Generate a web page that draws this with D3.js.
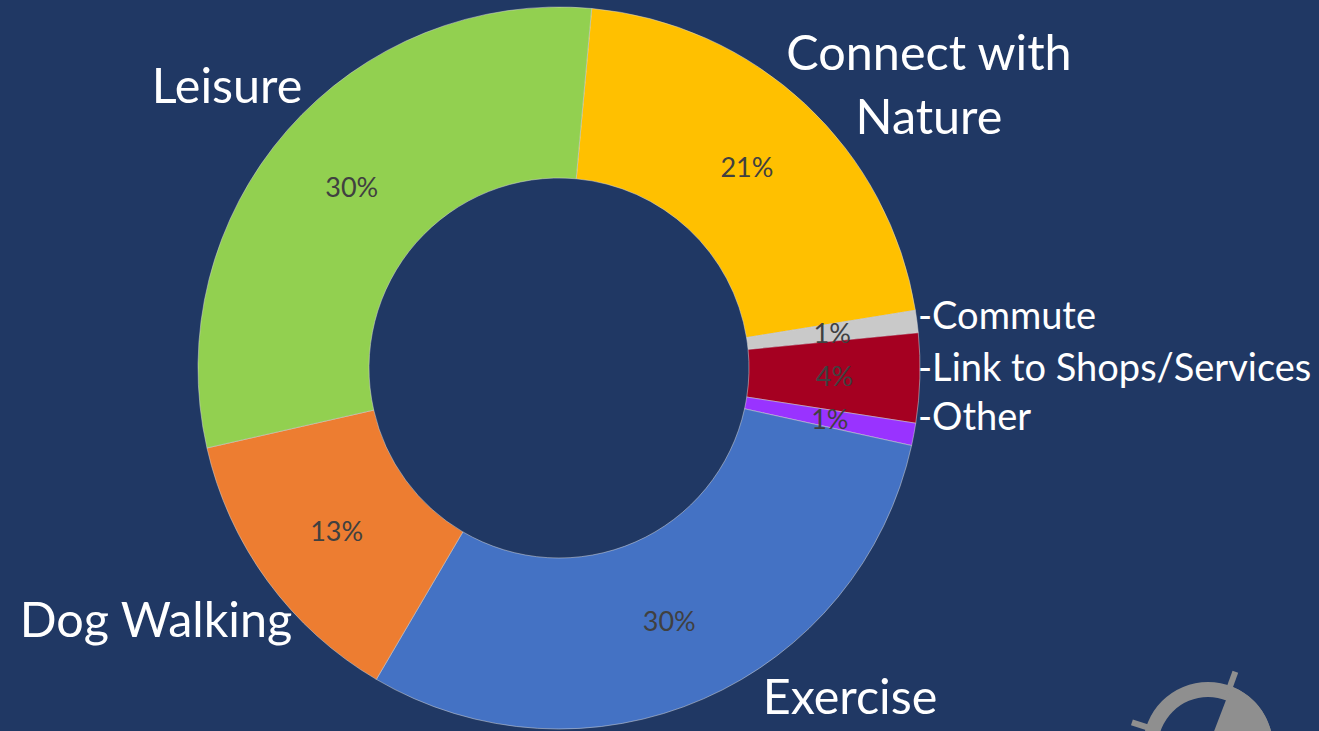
<!DOCTYPE html>
<html>
<head>
<meta charset="utf-8">
<script src="https://cdn.jsdelivr.net/npm/d3@7"></script>
<style>
  html, body { margin: 0; padding: 0; background: #203864; }
  svg { display: block; }
</style>
</head>
<body>
<svg id="chart" width="1319" height="731"></svg>
<script>
// data, in slice order (clockwise)
const categories = ["Connect with Nature", "Commute", "Link to Shops/Services", "Other", "Exercise", "Dog Walking", "Leisure"];
const values = [21, 1, 4, 1, 30, 13, 30];
const pctLabels = ["21%", "1%", "4%", "1%", "30%", "13%", "30%"];
const colors = ["#FFC000", "#C9C9C9", "#A50021", "#9933FF", "#4472C4", "#ED7D31", "#92D050"];

const svg = d3.select("#chart");
const cx = 559, cy = 368;
const outerR = 361, innerR = 190;
const startDeg = 5.2;

const pie = d3.pie()
    .sort(null)
    .value(d => d.value)
    .startAngle(startDeg * Math.PI / 180)
    .endAngle((startDeg + 360) * Math.PI / 180);

const arc = d3.arc().innerRadius(innerR).outerRadius(outerR);
const labelArc = d3.arc().innerRadius((innerR + outerR) / 2).outerRadius((innerR + outerR) / 2);

const data = categories.map((c, i) => ({ name: c, value: values[i], pct: pctLabels[i], color: colors[i] }));
const arcs = pie(data);

const g = svg.append("g").attr("transform", `translate(${cx},${cy})`);

g.selectAll("path.slice")
    .data(arcs)
    .join("path")
    .attr("class", "slice")
    .attr("d", arc)
    .attr("fill", d => d.data.color)
    .attr("stroke", "#d9d9d9")
    .attr("stroke-width", 0.5);

// percent labels at slice centroid
g.selectAll("text.pct")
    .data(arcs)
    .join("text")
    .attr("class", "pct")
    .attr("x", d => labelArc.centroid(d)[0])
    .attr("y", d => labelArc.centroid(d)[1])
    .attr("text-anchor", "middle")
    .attr("dominant-baseline", "central")
    .attr("font-family", "Lato, 'Open Sans', sans-serif")
    .attr("font-size", 27)
    .attr("fill", "#404040")
    .text(d => d.data.pct);

// category labels outside
const labelFont = "Lato, 'Open Sans', sans-serif";
const outerLabels = [
    { name: "Leisure", lines: ["Leisure"], x: 227, y: 84, anchor: "middle" },
    { name: "Connect with Nature", lines: ["Connect with", "Nature"], x: 929, y: 51, anchor: "middle" },
    { name: "Commute", lines: ["-Commute"], x: 918, y: 314, anchor: "start", small: true },
    { name: "Link to Shops/Services", lines: ["-Link to Shops/Services"], x: 918, y: 366, anchor: "start", small: true },
    { name: "Other", lines: ["-Other"], x: 918, y: 415, anchor: "start", small: true },
    { name: "Exercise", lines: ["Exercise"], x: 850, y: 695, anchor: "middle" },
    { name: "Dog Walking", lines: ["Dog Walking"], x: 156, y: 618, anchor: "middle" }
];

outerLabels.forEach(l => {
    const t = svg.append("text")
        .attr("x", l.x)
        .attr("y", l.y)
        .attr("text-anchor", l.anchor)
        .attr("dominant-baseline", "central")
        .attr("font-family", labelFont)
        .attr("font-size", l.small ? 38 : 48.5)
        .attr("fill", "#ffffff");
    l.lines.forEach((line, i) => {
        t.append("tspan")
            .attr("x", l.x)
            .attr("dy", i === 0 ? 0 : 64)
            .text(line);
    });
});

// logo fragment in the bottom right corner
const logo = svg.append("g").attr("transform", "translate(1208,747)");
const grey = "#8f8f8f";
logo.append("path")
    .attr("d", d3.arc().innerRadius(50).outerRadius(65).startAngle(-Math.PI).endAngle(Math.PI)())
    .attr("fill", grey);
logo.append("path")
    .attr("d", d3.arc().innerRadius(0).outerRadius(65).startAngle(21 * Math.PI / 180).endAngle(160 * Math.PI / 180)())
    .attr("fill", grey);
[20, -72].forEach(a => {
    logo.append("line")
        .attr("x1", 0).attr("y1", -62)
        .attr("x2", 0).attr("y2", -80)
        .attr("stroke", grey)
        .attr("stroke-width", 6)
        .attr("transform", `rotate(${a})`);
});
</script>
</body>
</html>
